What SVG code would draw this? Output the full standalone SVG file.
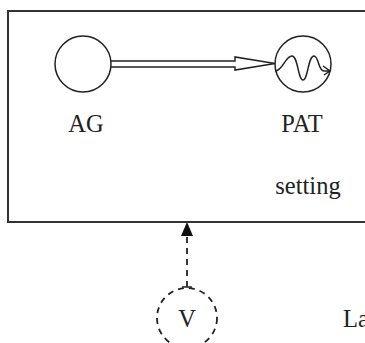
<svg xmlns="http://www.w3.org/2000/svg" width="365" height="343" viewBox="0 0 365 343">
<defs>
<style>
.ln{fill:none;stroke:#222;stroke-width:1.5}
.dash{fill:none;stroke:#222;stroke-width:1.8;stroke-dasharray:6,5}
.t{font-family:"Liberation Serif","Times New Roman",serif;font-size:24.5px;fill:#222}
</style>
</defs>
<g id="frame">
<rect x="8" y="11" width="370" height="211" fill="none" stroke="#333" stroke-width="2"/>
</g>
<g id="AG">
<circle class="ln" cx="83" cy="64" r="28"/>
<text class="t" x="86" y="132" text-anchor="middle">AG</text>
</g>
<g id="PAT">
<circle class="ln" cx="303" cy="64" r="28"/>
<path class="ln" d="M275,71 C283,71 285,56 292,56 C298,56 298,80 303,80 C308,80 308,56 314,56 C319,56 318,71 324,71 L330,71 M323,66 L330,71 L324,75"/>
<text class="t" x="302" y="132" text-anchor="middle">PAT</text>
<text class="t" x="308" y="194" text-anchor="middle">setting</text>
</g>
<g id="V">
<circle class="dash" cx="187" cy="318" r="30"/>
<text class="t" x="187" y="327" text-anchor="middle">V</text>
</g>
<g id="La">
<text class="t" x="343" y="327">La</text>
</g>
<g id="connectors">
<path class="ln" d="M111,61 L235,61 L235,57 L275,63.5 L235,70 L235,67 L111,67"/>
<line class="dash" x1="187" y1="287" x2="187" y2="235"/>
<line x1="182" y1="287" x2="192" y2="287" stroke="#222" stroke-width="1.5"/>
<path d="M181,236 L187,222 L193,236 Z" fill="#111"/>
</g>
</svg>
